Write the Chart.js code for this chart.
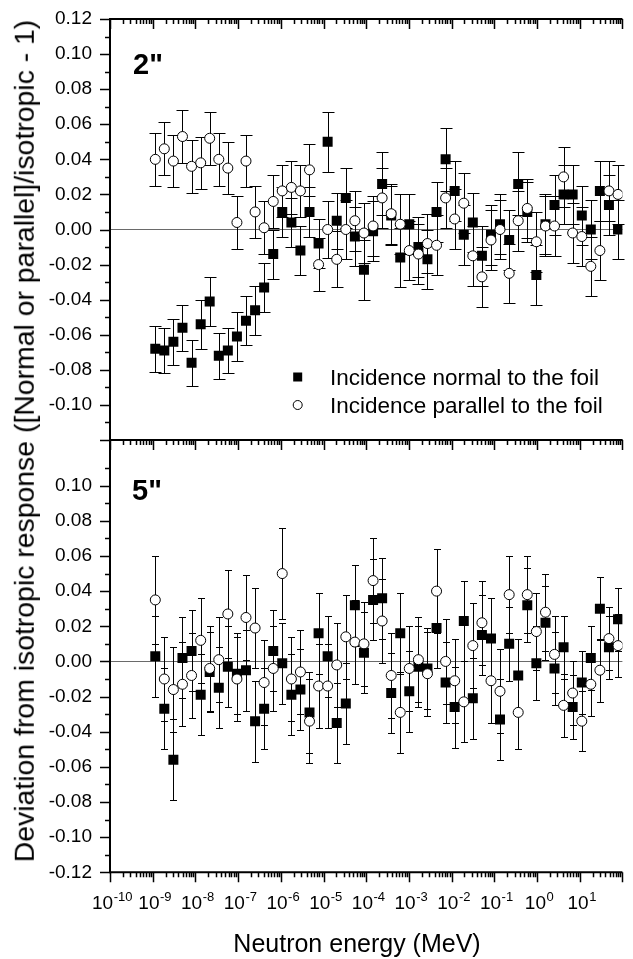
<!DOCTYPE html>
<html>
<head>
<meta charset="utf-8">
<script src="https://cdn.jsdelivr.net/npm/chart.js@4.4.1/dist/chart.umd.min.js"></script>
<style>
  html, body { margin: 0; padding: 0; background: #fff; }
  #wrap { position: relative; width: 633px; height: 959px; overflow: hidden; background: #fff; }
  canvas { position: absolute; left: 0; }
  #c1 { top: 0; }
  #c2 { top: 430px; }
  .axtitle {
    position: absolute; font-family: 'Liberation Sans', Arial, sans-serif; color: #000;
    white-space: nowrap; line-height: 1;
  }
  #ytitle { left: 24px; top: 441px; font-size: 28.4px; transform: translate(-50%, -50%) rotate(-90deg); }
  #xtitle { left: 357px; top: 943px; font-size: 25px; transform: translate(-50%, -50%); }
</style>
</head>
<body>
<div id="wrap">
  <canvas id="c1" width="633" height="450"></canvas>
  <canvas id="c2" width="633" height="529"></canvas>
  <div id="ytitle" class="axtitle">Deviation from isotropic response ([Normal or parallel]/isotropic - 1)</div>
  <div id="xtitle" class="axtitle">Neutron energy (MeV)</div>
</div>
<script>
// ---------------- DATA ----------------
const energyMeV = [
  1.15e-9, 1.87e-9, 3.05e-9, 4.98e-9, 8.13e-9,
  1.33e-8, 2.16e-8, 3.53e-8, 5.75e-8, 9.39e-8,
  1.53e-7, 2.50e-7, 4.07e-7, 6.65e-7, 1.08e-6,
  1.77e-6, 2.88e-6, 4.70e-6, 7.67e-6, 1.25e-5,
  2.04e-5, 3.33e-5, 5.43e-5, 8.86e-5, 1.45e-4,
  2.36e-4, 3.85e-4, 6.27e-4, 1.02e-3, 1.67e-3,
  2.72e-3, 4.44e-3, 7.24e-3, 1.18e-2, 1.93e-2,
  3.14e-2, 5.13e-2, 8.37e-2, 0.136, 0.223,
  0.363, 0.592, 0.966, 1.58, 2.57,
  4.19, 6.84, 11.2, 18.2, 29.7,
  48.4, 79.0
];

// 2" sphere
const normal2 = [
  -0.068, -0.069, -0.064, -0.056, -0.076,
  -0.054, -0.041, -0.072, -0.069, -0.061,
  -0.052, -0.046, -0.033, -0.014, 0.010,
  0.004, -0.012, 0.010, -0.008, 0.050,
  0.005, 0.018, -0.004, -0.023, -0.001,
  0.026, 0.008, -0.016, 0.003, -0.010,
  -0.017, 0.010, 0.040, 0.022, -0.003,
  0.004, -0.015, -0.003, 0.003, -0.006,
  0.026, 0.010, -0.026, 0.003, 0.014,
  0.020, 0.020, 0.008, 0.000, 0.022,
  0.014, 0.000
];
const normal2Err = [
  0.013, 0.013, 0.013, 0.013, 0.013,
  0.014, 0.014, 0.013, 0.013, 0.014,
  0.014, 0.014, 0.014, 0.014, 0.014,
  0.014, 0.014, 0.014, 0.014, 0.017,
  0.016, 0.017, 0.017, 0.017, 0.017,
  0.018, 0.017, 0.017, 0.017, 0.017,
  0.017, 0.017, 0.018, 0.017, 0.017,
  0.017, 0.017, 0.017, 0.017, 0.017,
  0.018, 0.017, 0.017, 0.017, 0.017,
  0.017, 0.017, 0.017, 0.017, 0.017,
  0.017, 0.017
];
const parallel2 = [
  0.040, 0.046, 0.039, 0.053, 0.036,
  0.038, 0.052, 0.040, 0.035, 0.004,
  0.039, 0.010, 0.001, 0.016, 0.022,
  0.024, 0.022, 0.034, -0.020, 0.000,
  -0.017, 0.000, 0.005, -0.002, 0.002,
  0.018, 0.009, 0.003, -0.012, -0.014,
  -0.008, -0.009, 0.018, 0.006, 0.015,
  -0.015, -0.027, -0.006, 0.000, -0.025,
  0.005, 0.012, -0.007, 0.002, 0.002,
  0.030, -0.002, -0.004, -0.021, -0.012,
  0.022, 0.020
];
const parallel2Err = [
  0.015, 0.015, 0.015, 0.015, 0.015,
  0.015, 0.015, 0.015, 0.015, 0.015,
  0.015, 0.015, 0.015, 0.015, 0.015,
  0.015, 0.015, 0.015, 0.015, 0.016,
  0.016, 0.017, 0.017, 0.017, 0.017,
  0.017, 0.017, 0.017, 0.017, 0.017,
  0.017, 0.017, 0.017, 0.017, 0.017,
  0.017, 0.017, 0.017, 0.017, 0.017,
  0.017, 0.017, 0.017, 0.017, 0.017,
  0.017, 0.017, 0.017, 0.017, 0.017,
  0.017, 0.017
];

// 5" sphere
const normal5 = [
  0.003, -0.027, -0.056, 0.002, 0.006,
  -0.019, -0.006, -0.015, -0.003, -0.007,
  -0.005, -0.034, -0.027, 0.006, -0.001,
  -0.019, -0.016, -0.029, 0.016, 0.003,
  -0.035, -0.024, 0.032, 0.005, 0.035,
  0.036, -0.018, 0.016, -0.017, -0.003,
  -0.004, 0.019, -0.012, -0.026, 0.023,
  -0.021, 0.015, 0.013, -0.033, 0.010,
  -0.008, 0.032, -0.001, 0.022, -0.004,
  0.008, -0.026, -0.012, 0.002, 0.030,
  0.008, 0.024
];
const normal5Err = [
  0.023, 0.023, 0.023, 0.023, 0.023,
  0.023, 0.023, 0.023, 0.023, 0.023,
  0.023, 0.023, 0.023, 0.023, 0.023,
  0.023, 0.023, 0.023, 0.023, 0.023,
  0.023, 0.023, 0.023, 0.023, 0.023,
  0.023, 0.023, 0.023, 0.023, 0.023,
  0.023, 0.023, 0.023, 0.023, 0.023,
  0.023, 0.023, 0.023, 0.023, 0.021,
  0.021, 0.021, 0.021, 0.021, 0.021,
  0.018, 0.018, 0.018, 0.018, 0.018,
  0.018, 0.018
];
const parallel5 = [
  0.035, -0.010, -0.016, -0.013, -0.008,
  0.012, -0.004, 0.001, 0.027, -0.010,
  0.025, 0.019, -0.012, -0.004, 0.050,
  -0.010, -0.006, -0.034, -0.014, -0.014,
  -0.002, 0.014, 0.011, 0.010, 0.046,
  0.023, -0.008, -0.029, -0.004, 0.001,
  -0.007, 0.040, 0.000, -0.011, -0.023,
  0.009, 0.022, -0.011, -0.017, 0.038,
  -0.029, 0.038, 0.017, 0.028, 0.004,
  -0.025, -0.018, -0.034, -0.013, -0.005,
  0.013, 0.009
];
const parallel5Err = [
  0.025, 0.024, 0.024, 0.024, 0.024,
  0.024, 0.024, 0.024, 0.025, 0.024,
  0.024, 0.023, 0.024, 0.024, 0.026,
  0.024, 0.024, 0.024, 0.024, 0.024,
  0.024, 0.024, 0.024, 0.024, 0.024,
  0.024, 0.024, 0.023, 0.024, 0.024,
  0.024, 0.024, 0.024, 0.024, 0.023,
  0.024, 0.024, 0.024, 0.024, 0.022,
  0.021, 0.022, 0.022, 0.022, 0.022,
  0.018, 0.018, 0.017, 0.018, 0.018,
  0.018, 0.018
];

const seriesLabels = ['Incidence normal to the foil', 'Incidence parallel to the foil'];
const panelLabels = ['2"', '5"'];

const xMajorTicks = [1e-10, 1e-9, 1e-8, 1e-7, 1e-6, 1e-5, 1e-4, 1e-3, 1e-2, 1e-1, 1e0, 1e1, 1e2];
const xTickBase = '10';
const xTickExponents = ['-10', '-9', '-8', '-7', '-6', '-5', '-4', '-3', '-2', '-1', '0', '1', ''];
const xMinorMultipliers = [2, 3, 4, 5, 6, 7, 8, 9];

const yLabelTicksTop = [-0.10, -0.08, -0.06, -0.04, -0.02, 0.00, 0.02, 0.04, 0.06, 0.08, 0.10, 0.12];
const yLabelTicksBottom = [-0.12, -0.10, -0.08, -0.06, -0.04, -0.02, 0.00, 0.02, 0.04, 0.06, 0.08, 0.10];
const yMajorTicks = [-0.12, -0.10, -0.08, -0.06, -0.04, -0.02, 0.00, 0.02, 0.04, 0.06, 0.08, 0.10, 0.12];
const yMinorTicks = [-0.11, -0.09, -0.07, -0.05, -0.03, -0.01, 0.01, 0.03, 0.05, 0.07, 0.09, 0.11];

// ---------------- DRAWING ----------------
const FONT = "'Liberation Sans', Arial, 'DejaVu Sans', sans-serif";
const X_MIN = 1e-10, X_MAX = 1e2;

function pts(vals) { return vals.map((v, i) => ({ x: energyMeV[i], y: v })); }

const errorBarPlugin = {
  id: 'errbars',
  beforeDatasetsDraw(chart, args, opts) {
    const ctx = chart.ctx, ys = chart.scales.y;
    ctx.save();
    ctx.strokeStyle = '#000';
    ctx.lineWidth = 1;
    chart.data.datasets.forEach((ds, di) => {
      const meta = chart.getDatasetMeta(di);
      meta.data.forEach((el, i) => {
        const v = ds.data[i].y, e = ds.errors[i];
        const x = Math.round(el.x) + 0.5;
        const y1 = Math.round(ys.getPixelForValue(v + e)) + 0.5;
        const y2 = Math.round(ys.getPixelForValue(v - e)) + 0.5;
        const h = opts.cap / 2;
        ctx.beginPath();
        ctx.moveTo(x, y1); ctx.lineTo(x, y2);
        ctx.moveTo(x - h, y1); ctx.lineTo(x + h, y1);
        ctx.moveTo(x - h, y2); ctx.lineTo(x + h, y2);
        ctx.stroke();
      });
    });
    ctx.restore();
  }
};

const framePlugin = {
  id: 'frame',
  afterDraw(chart, args, o) {
    const { ctx, chartArea: a } = chart;
    const xs = chart.scales.x, ys = chart.scales.y;
    ctx.save();
    ctx.strokeStyle = '#000';
    ctx.lineCap = 'butt';
    const seg = (x1, y1, x2, y2) => { ctx.moveTo(x1, y1); ctx.lineTo(x2, y2); };

    // axis lines
    ctx.lineWidth = 2;
    ctx.beginPath();
    seg(a.left, a.top - 1, a.left, a.bottom + 1);
    seg(a.left - 1, a.top, a.right, a.top);
    seg(a.left - 1, a.bottom, a.right, a.bottom);
    ctx.stroke();

    // x ticks
    ctx.lineWidth = 1.5;
    ctx.beginPath();
    const xt = [];
    xMajorTicks.forEach(v => {
      if (v >= X_MIN && v <= X_MAX) xt.push([v, 10]);
      xMinorMultipliers.forEach(m => { const t = v * m; if (t > X_MIN && t < X_MAX) xt.push([t, 5]); });
    });
    (o.xTickEdges || []).forEach(edge => {
      const y0 = edge.at === 'top' ? a.top : a.bottom;
      xt.forEach(([v, len]) => {
        const px = Math.round(xs.getPixelForValue(v)) + 0.5;
        seg(px, y0, px, y0 + edge.dir * len);
      });
    });
    // y ticks (outward, left)
    const yt = [];
    yMajorTicks.forEach(v => { if (v >= ys.min - 1e-9 && v <= ys.max + 1e-9 && !(o.skipTop && Math.abs(v - 0.12) < 1e-9)) yt.push([v, 10]); });
    yMinorTicks.forEach(v => { if (v >= ys.min && v <= ys.max) yt.push([v, 5]); });
    yt.forEach(([v, len]) => {
      const py = Math.round(ys.getPixelForValue(v)) + 0.5;
      seg(a.left - len, py, a.left, py);
    });
    ctx.stroke();

    ctx.fillStyle = '#000';
    ctx.textBaseline = 'alphabetic';
    ctx.textAlign = 'left';

    // x tick labels with superscript exponents
    if (o.xLabels) {
      const baseFont = '19px ' + FONT, expFont = '13px ' + FONT;
      const yb = a.bottom + o.xLabels.baseline;
      xMajorTicks.forEach((v, i) => {
        const ex = xTickExponents[i];
        if (!ex) return;
        const px = xs.getPixelForValue(v);
        ctx.font = baseFont; const wb = ctx.measureText(xTickBase).width;
        ctx.font = expFont; const we = ctx.measureText(ex).width;
        const x0 = px - (wb + we) / 2 + 2;
        ctx.font = baseFont; ctx.fillText(xTickBase, x0, yb);
        ctx.font = expFont; ctx.fillText(ex, x0 + wb + 0.5, yb - 8);
      });
    }

    // panel label
    ctx.font = 'bold 29px ' + FONT;
    ctx.fillText(o.label, a.left + o.labelDx, a.top + o.labelDy);

    // legend
    if (o.legend) {
      const L = o.legend;
      ctx.font = '22.5px ' + FONT;
      chart.data.datasets.forEach((ds, i) => {
        const cy = L.y + i * L.gap;
        ctx.lineWidth = 1;
        if (ds.pointStyle === 'rect') {
          ctx.fillStyle = '#000';
          ctx.fillRect(L.x - 4.5, cy - 4.5, 9, 9);
        } else {
          ctx.beginPath();
          ctx.arc(L.x, cy, 4.5, 0, Math.PI * 2);
          ctx.fillStyle = '#fff'; ctx.fill();
          ctx.strokeStyle = '#000'; ctx.stroke();
        }
        ctx.fillStyle = '#000';
        ctx.fillText(ds.label, L.textX, cy + 7.5);
      });
    }
    ctx.restore();
  }
};

function makeDatasets(nVals, nErr, pVals, pErr) {
  return [
    {
      label: seriesLabels[0], data: pts(nVals), errors: nErr,
      pointStyle: 'rect', pointRadius: 7.07, pointBackgroundColor: '#000',
      pointBorderColor: '#000', pointBorderWidth: 0, showLine: false, order: 2
    },
    {
      label: seriesLabels[1], data: pts(pVals), errors: pErr,
      pointStyle: 'circle', pointRadius: 5, pointBackgroundColor: '#fff',
      pointBorderColor: '#000', pointBorderWidth: 1, showLine: false, order: 1
    }
  ];
}

function zeroPad(s) { s.paddingTop = 0; s.paddingBottom = 0; s.paddingLeft = 0; s.paddingRight = 0; }

function yScale(yMax, labelTicks) {
  return {
    type: 'linear', min: -0.12, max: yMax,
    afterFit: s => { s.width = 110; zeroPad(s); },
    afterBuildTicks: s => { s.ticks = labelTicks.map(v => ({ value: v })); },
    ticks: {
      padding: 18, color: '#000', font: { family: FONT, size: 19 },
      callback: v => (Math.abs(v) < 1e-9 ? 0 : v).toFixed(2)
    },
    grid: {
      drawTicks: false, lineWidth: 1,
      color: c => (c.tick && Math.abs(c.tick.value) < 1e-9) ? '#6a6a6a' : 'rgba(0,0,0,0)'
    },
    border: { display: false }
  };
}

const common = {
  responsive: false, animation: false, events: [], devicePixelRatio: 1,
};

// top panel (2")
new Chart(document.getElementById('c1'), {
  type: 'scatter',
  data: { datasets: makeDatasets(normal2, normal2Err, parallel2, parallel2Err) },
  options: {
    ...common,
    layout: { autoPadding: false, padding: { top: 19, bottom: 10, left: 0, right: 10.6 } },
    scales: {
      x: { type: 'logarithmic', min: X_MIN, max: X_MAX, display: false, afterFit: s => { s.height = 0; zeroPad(s); } },
      y: yScale(0.12, yLabelTicksTop)
    },
    plugins: {
      legend: { display: false }, tooltip: { enabled: false },
      errbars: { cap: 12 },
      frame: {
        label: panelLabels[0], labelDx: 23, labelDy: 55,
        xTickEdges: [{ at: 'top', dir: 1 }],
        legend: { x: 297.7, y: 377, gap: 28, textX: 330 }
      }
    }
  },
  plugins: [errorBarPlugin, framePlugin]
});

// bottom panel (5")
new Chart(document.getElementById('c2'), {
  type: 'scatter',
  data: { datasets: makeDatasets(normal5, normal5Err, parallel5, parallel5Err) },
  options: {
    ...common,
    layout: { autoPadding: false, padding: { top: 10, bottom: 0, left: 0, right: 10.6 } },
    scales: {
      x: {
        type: 'logarithmic', min: X_MIN, max: X_MAX,
        afterFit: s => { s.height = 86.7; zeroPad(s); },
        afterBuildTicks: s => { s.ticks = xMajorTicks.map(v => ({ value: v })); },
        ticks: { display: false, autoSkip: false },
        grid: { display: false, drawTicks: false },
        border: { display: false }
      },
      y: yScale(0.126, yLabelTicksBottom)
    },
    plugins: {
      legend: { display: false }, tooltip: { enabled: false },
      errbars: { cap: 7 },
      frame: {
        label: panelLabels[1], labelDx: 22, labelDy: 60, skipTop: true,
        xTickEdges: [{ at: 'top', dir: 1 }, { at: 'bottom', dir: 1 }],
        xLabels: { baseline: 36.5 }
      }
    }
  },
  plugins: [errorBarPlugin, framePlugin]
});
</script>
</body>
</html>
